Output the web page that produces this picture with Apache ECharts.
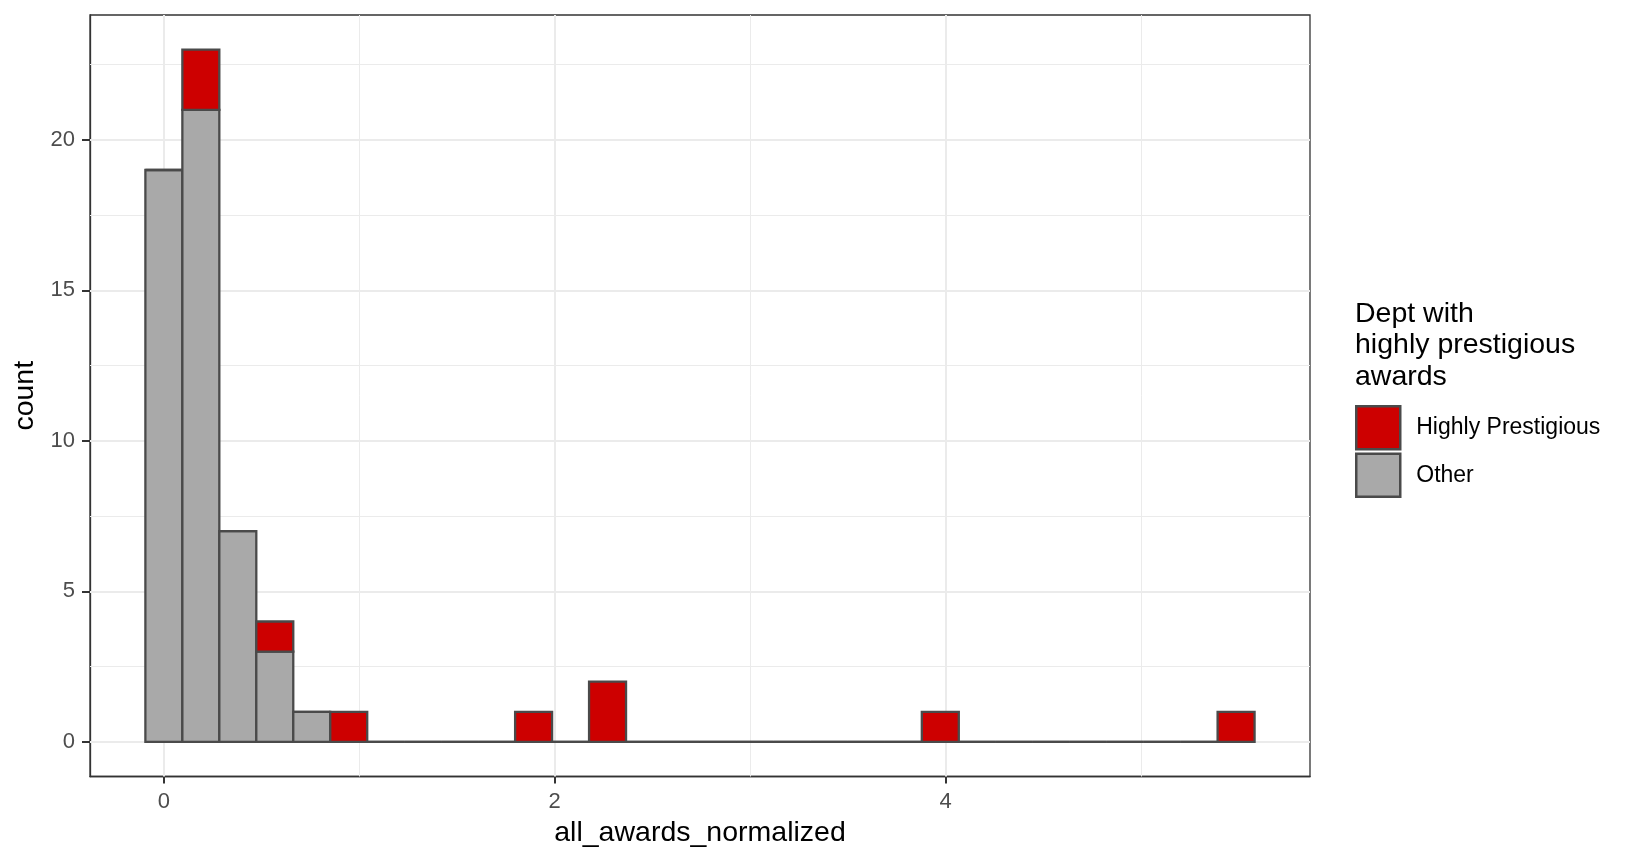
<!DOCTYPE html>
<html>
<head>
<meta charset="utf-8">
<script src="https://cdn.jsdelivr.net/npm/echarts@6/dist/echarts.min.js"></script>
<style>html,body{margin:0;padding:0;background:#fff;}#c{width:1632px;height:864px;}</style>
</head>
<body>
<div id="c"></div>
<script>
// ---- data ----
const binWidth = 0.1892;           // histogram bin width (bins centred on multiples of it)
const otherCounts = [19,21,7,3,1,0,0,0,0,0,0,0,0,0,0,0,0,0,0,0,0,0,0,0,0,0,0,0,0,0];
const prestigiousCounts = [0,2,0,1,0,1,0,0,0,0,1,0,2,0,0,0,0,0,0,0,0,1,0,0,0,0,0,0,0,1];
const xTicks = [0, 2, 4];
const xMinor = [1, 3, 5];
const yTicks = [0, 5, 10, 15, 20];
const yMinor = [2.5, 7.5, 12.5, 17.5, 22.5];
const seriesNames = ['Highly Prestigious', 'Other'];
const legendTitle = 'Dept with\nhighly prestigious\nawards';

const FONT = 'Liberation Sans, Arial, Helvetica, sans-serif';
const RED = '#CD0000', GREY = '#A9A9A9', EDGE = '#4A4A4A';

const otherData = otherCounts.map((c, i) => [i * binWidth, 0, c]);
const presData = prestigiousCounts.map((c, i) => [i * binWidth, otherCounts[i], otherCounts[i] + c]);

function makeRender(color) {
  return function (params, api) {
    const xc = api.value(0), y0 = api.value(1), y1 = api.value(2);
    const p0 = api.coord([xc - binWidth / 2, y0]);
    const p1 = api.coord([xc + binWidth / 2, y1]);
    return {
      type: 'rect',
      shape: { x: p0[0], y: p1[1], width: p1[0] - p0[0], height: p0[1] - p1[1] },
      style: { fill: color, stroke: EDGE, lineWidth: 2.3 }
    };
  };
}

const chart = echarts.init(document.getElementById('c'), null, { renderer: 'canvas' });
chart.setOption({
  animation: false,
  backgroundColor: '#fff',
  title: {
    text: legendTitle,
    left: 1355, top: 298, padding: 0,
    textStyle: { fontFamily: FONT, fontSize: 28.5, fontWeight: 'normal', color: '#000', lineHeight: 31.5 }
  },
  legend: {
    orient: 'vertical', left: 1355, top: 405, padding: 0,
    itemWidth: 44, itemHeight: 43, itemGap: 2,
    selectedMode: false, icon: 'rect',
    textStyle: { fontFamily: FONT, fontSize: 23, color: '#000', padding: [0, 0, 0, 11] },
    data: [
      { name: seriesNames[0], itemStyle: { color: RED, borderColor: EDGE, borderWidth: 2.5 } },
      { name: seriesNames[1], itemStyle: { color: GREY, borderColor: EDGE, borderWidth: 2.5 } }
    ]
  },
  grid: {
    left: 90, top: 15, width: 1220, height: 761.5,
    show: true, borderColor: '#333333', borderWidth: 1.3, backgroundColor: 'transparent',
    containLabel: false, outerBoundsMode: 'none'
  },
  xAxis: {
    type: 'value', min: -0.378, max: 5.865,
    name: 'all_awards_normalized', nameLocation: 'middle', nameGap: 42,
    nameTextStyle: { fontFamily: FONT, fontSize: 28.5, color: '#000' },
    axisLine: { show: true, onZero: false, lineStyle: { color: '#333333', width: 1.3 } },
    axisTick: { show: true, customValues: xTicks, length: 7, lineStyle: { color: '#333', width: 2 } },
    axisLabel: { customValues: xTicks, fontFamily: FONT, fontSize: 22, color: '#4D4D4D', margin: 14 },
    splitLine: { show: false }
  },
  yAxis: {
    type: 'value', min: -1.15, max: 24.15,
    name: 'count', nameLocation: 'middle', nameGap: 46, nameRotate: 90,
    nameTextStyle: { fontFamily: FONT, fontSize: 28.5, color: '#000' },
    axisLine: { show: true, onZero: false, lineStyle: { color: '#333333', width: 1.3 } },
    axisTick: { show: true, customValues: yTicks, length: 8, lineStyle: { color: '#333', width: 2 } },
    axisLabel: { customValues: yTicks, fontFamily: FONT, fontSize: 22, color: '#4D4D4D', margin: 15 },
    splitLine: { show: false }
  },
  series: [
    {
      name: 'gridMinor', type: 'line', data: [], z: 1, silent: true,
      markLine: {
        z: 1, silent: true, symbol: ['none', 'none'], label: { show: false }, animation: false,
        lineStyle: { color: '#EBEBEB', width: 1, type: 'solid' },
        emphasis: { disabled: true },
        data: xMinor.map(v => ({ xAxis: v })).concat(yMinor.map(v => ({ yAxis: v })))
      }
    },
    {
      name: 'gridMajor', type: 'line', data: [], z: 1, silent: true,
      markLine: {
        z: 1, silent: true, symbol: ['none', 'none'], label: { show: false }, animation: false,
        lineStyle: { color: '#EBEBEB', width: 2, type: 'solid' },
        emphasis: { disabled: true },
        data: xTicks.map(v => ({ xAxis: v })).concat(yTicks.map(v => ({ yAxis: v })))
      }
    },
    {
      name: seriesNames[1], type: 'custom', z: 3, renderItem: makeRender(GREY),
      itemStyle: { color: GREY }, encode: { x: 0, y: 2 }, data: otherData
    },
    {
      name: seriesNames[0], type: 'custom', z: 4, renderItem: makeRender(RED),
      itemStyle: { color: RED }, encode: { x: 0, y: 2 }, data: presData
    }
  ]
});
</script>
</body>
</html>
